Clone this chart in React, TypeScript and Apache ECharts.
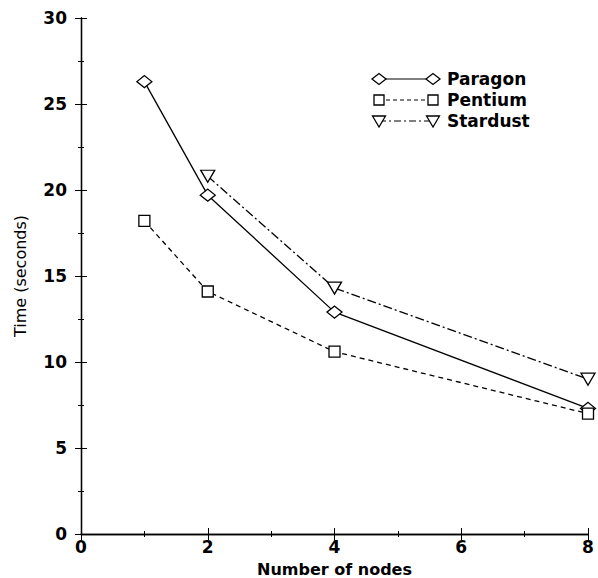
import React, { useEffect, useRef } from "react";
import * as echarts from "echarts";

const nodes = [1, 2, 4, 8];
const paragon = [26.3, 19.7, 12.9, 7.3];
const pentium = [18.2, 14.1, 10.6, 7.0];
const stardustNodes = [2, 4, 8];
const stardust = [20.8, 14.3, 9.0];
const seriesNames = ["Paragon", "Pentium", "Stardust"];
const xTicks = [0, 2, 4, 6, 8];
const yTicks = [0, 5, 10, 15, 20, 25, 30];

const FONT = "DejaVu Sans, Liberation Sans, Arial, sans-serif";

export default function App() {
  const ref = useRef<HTMLDivElement>(null);
  useEffect(() => {
    if (!ref.current) return;
    const chart = echarts.init(ref.current, undefined, { renderer: "svg" });
    const gridLeft = 81, gridRight = 10, gridTop = 18, gridBottom = 44;

    const markerStyle = { color: "#fff", borderColor: "#000", borderWidth: 1.3 };
    const baseAxis = {
      axisLine: { show: true, lineStyle: { color: "#000", width: 1.3 } },
      axisTick: { show: true, inside: true, length: 6, lineStyle: { color: "#000", width: 1 } },
      minorTick: { show: true, splitNumber: 2, length: 3, lineStyle: { color: "#000", width: 1 } },
      splitLine: { show: false },
    };

    // custom legend
    const legendGraphics: any[] = [];
    const lx1 = 379, lx2 = 433, ly0 = 79, ldy = 21;
    const dashes: any[] = [null, [4, 3], [7, 3, 2, 3]];
    seriesNames.forEach((name, i) => {
      const y = ly0 + i * ldy;
      legendGraphics.push({
        type: "line",
        shape: { x1: lx1, y1: y, x2: lx2, y2: y },
        style: { stroke: "#000", lineWidth: 1.2, lineDash: dashes[i] },
        z: 10,
      });
      [lx1, lx2].forEach((cx) => {
        let el: any;
        if (i === 0) {
          el = { type: "polygon", shape: { points: [[cx - 7, y], [cx, y - 5.5], [cx + 7, y], [cx, y + 5.5]] } };
        } else if (i === 1) {
          el = { type: "rect", shape: { x: cx - 5, y: y - 5, width: 10, height: 10 } };
        } else {
          el = { type: "polygon", shape: { points: [[cx - 6.5, y - 5], [cx + 6.5, y - 5], [cx, y + 6]] } };
        }
        el.style = { fill: "#fff", stroke: "#000", lineWidth: 1.3 };
        el.z = 11;
        legendGraphics.push(el);
      });
      legendGraphics.push({
        type: "text",
        x: 447,
        y: y,
        style: {
          text: name,
          font: `bold 17px ${FONT}`,
          fill: "#000",
          verticalAlign: "middle",
          align: "left",
        },
        z: 11,
      });
    });

    chart.setOption({
      animation: false,
      backgroundColor: "#fff",
      textStyle: { fontFamily: FONT },
      grid: {
        left: gridLeft,
        right: gridRight,
        top: gridTop,
        bottom: gridBottom,
        containLabel: false,
        outerBoundsMode: "none",
      },
      xAxis: [
        {
          ...baseAxis,
          type: "value",
          min: 0,
          max: 8,
          interval: 2,
          name: "Number of nodes",
          nameLocation: "middle",
          nameGap: 28,
          nameMoveOverlap: false,
          nameTextStyle: {
            color: "#000",
            fontSize: 16,
            fontWeight: "bold",
            fontFamily: FONT,
            lineHeight: 14,
          },
          axisLabel: {
            color: "#000",
            fontSize: 17,
            fontWeight: "bold",
            margin: 6,
            lineHeight: 14,
            fontFamily: FONT,
            formatter: (v: number) => (xTicks.includes(v) ? String(v) : ""),
          },
        },
        {
          ...baseAxis,
          type: "value",
          position: "top",
          min: 0,
          max: 8,
          interval: 2,
          axisLabel: { show: false },
        },
      ],
      yAxis: [
        {
          ...baseAxis,
          type: "value",
          min: 0,
          max: 30,
          interval: 5,
          name: "Time (seconds)",
          nameLocation: "middle",
          nameGap: 53,
          nameMoveOverlap: false,
          nameTextStyle: { color: "#000", fontSize: 16, fontFamily: FONT },
          axisLabel: {
            color: "#000",
            fontSize: 17,
            fontWeight: "bold",
            margin: 14,
            fontFamily: FONT,
            formatter: (v: number) => (yTicks.includes(v) ? String(v) : ""),
          },
        },
        {
          ...baseAxis,
          type: "value",
          position: "right",
          min: 0,
          max: 30,
          interval: 5,
          axisLabel: { show: false },
        },
      ],
      series: [
        {
          name: seriesNames[0],
          type: "line",
          data: nodes.map((x, i) => [x, paragon[i]]),
          symbol: "diamond",
          symbolSize: [15, 12],
          itemStyle: markerStyle,
          lineStyle: { color: "#000", width: 1.3, type: "solid" },
          clip: false,
          z: 3,
        },
        {
          name: seriesNames[1],
          type: "line",
          data: nodes.map((x, i) => [x, pentium[i]]),
          symbol: "rect",
          symbolSize: 11,
          itemStyle: markerStyle,
          lineStyle: { color: "#000", width: 1.3, type: [5, 4] },
          clip: false,
          z: 4,
        },
        {
          name: seriesNames[2],
          type: "line",
          data: stardustNodes.map((x, i) => [x, stardust[i]]),
          symbol: "triangle",
          symbolRotate: 180,
          symbolSize: [14, 12],
          itemStyle: markerStyle,
          lineStyle: { color: "#000", width: 1.3, type: [9, 3, 2, 3] },
          clip: false,
          z: 3,
        },
      ],
      graphic: legendGraphics,
    });
    return () => chart.dispose();
  }, []);
  return (
    <div
      ref={ref}
      style={{ position: "fixed", left: 0, top: 0, width: 598, height: 578, background: "#fff" }}
    />
  );
}
